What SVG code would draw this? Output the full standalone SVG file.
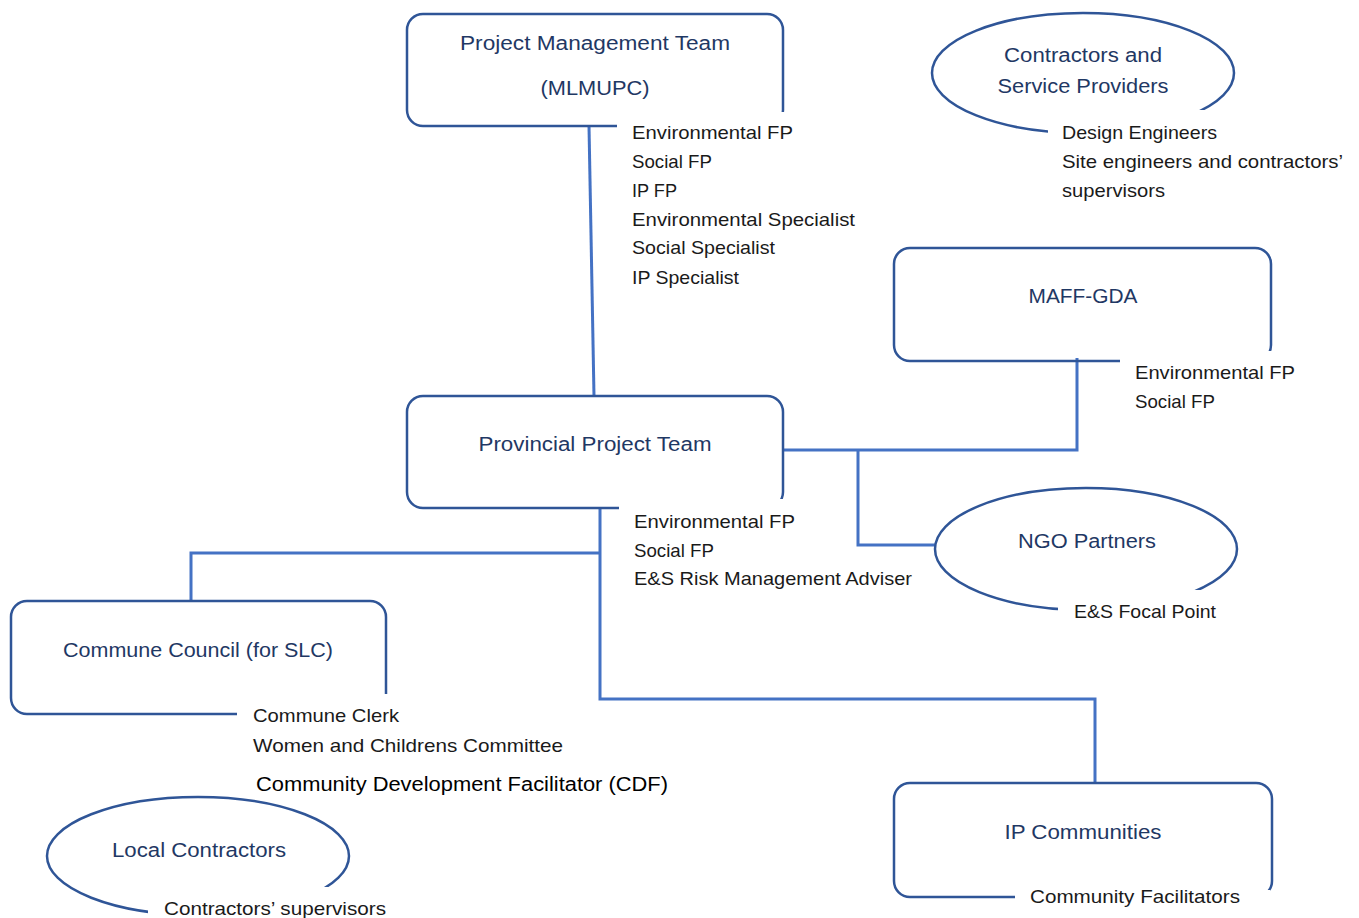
<svg xmlns="http://www.w3.org/2000/svg" width="1359" height="918" viewBox="0 0 1359 918">
<style>
.box{fill:none;stroke:#2F5597;stroke-width:2.5}
.tb{fill:#ffffff;stroke:none}
.con{fill:none;stroke:#4472C4;stroke-width:3}
.lbl{font-family:"Liberation Sans",Arial,sans-serif;font-size:19.5px;fill:#1F3864;text-anchor:middle}
.lst{font-family:"Liberation Sans",Arial,sans-serif;font-size:19px;fill:#1a1a1a}
</style>
<rect width="1359" height="918" fill="#ffffff"/>
<g id="connectors">
<path class="con" d="M589,126 L594,396"/>
<path class="con" d="M783,450 L1077,450 L1077,358"/>
<path class="con" d="M858,450 L858,545 L935,545"/>
<path class="con" d="M600,508 L600,699 L1095,699 L1095,783"/>
<path class="con" d="M600,553 L191,553 L191,601"/>
</g>
<g id="pmt">
<rect class="box" x="407" y="14" width="376" height="112" rx="16"/>
<rect class="tb" x="617" y="112" width="268" height="191"/>
<text class="lbl" x="595" y="50" textLength="270" lengthAdjust="spacingAndGlyphs">Project Management Team</text>
<text class="lbl" x="595" y="95" textLength="109" lengthAdjust="spacingAndGlyphs">(MLMUPC)</text>
<text class="lst" x="632" y="139" textLength="161" lengthAdjust="spacingAndGlyphs">Environmental FP</text>
<text class="lst" x="632" y="168" textLength="80" lengthAdjust="spacingAndGlyphs">Social FP</text>
<text class="lst" x="632" y="197" textLength="45" lengthAdjust="spacingAndGlyphs">IP FP</text>
<text class="lst" x="632" y="226" textLength="223" lengthAdjust="spacingAndGlyphs">Environmental Specialist</text>
<text class="lst" x="632" y="254" textLength="143" lengthAdjust="spacingAndGlyphs">Social Specialist</text>
<text class="lst" x="632" y="284" textLength="107" lengthAdjust="spacingAndGlyphs">IP Specialist</text>
</g>
<g id="contractors">
<ellipse class="box" cx="1083" cy="73" rx="151" ry="60"/>
<rect class="tb" x="1048" y="110" width="311" height="123"/>
<text class="lbl" x="1083" y="62" textLength="158" lengthAdjust="spacingAndGlyphs">Contractors and</text>
<text class="lbl" x="1083" y="93" textLength="171" lengthAdjust="spacingAndGlyphs">Service Providers</text>
<text class="lst" x="1062" y="139" textLength="155" lengthAdjust="spacingAndGlyphs">Design Engineers</text>
<text class="lst" x="1062" y="168" textLength="281" lengthAdjust="spacingAndGlyphs">Site engineers and contractors’</text>
<text class="lst" x="1062" y="197" textLength="103" lengthAdjust="spacingAndGlyphs">supervisors</text>
</g>
<g id="maff">
<rect class="box" x="894" y="248" width="377" height="113" rx="16"/>
<rect class="tb" x="1120" y="351" width="210" height="67"/>
<text class="lbl" x="1083" y="303" textLength="109" lengthAdjust="spacingAndGlyphs">MAFF-GDA</text>
<text class="lst" x="1135" y="379" textLength="160" lengthAdjust="spacingAndGlyphs">Environmental FP</text>
<text class="lst" x="1135" y="408" textLength="80" lengthAdjust="spacingAndGlyphs">Social FP</text>
</g>
<g id="ppt">
<rect class="box" x="407" y="396" width="376" height="112" rx="16"/>
<rect class="tb" x="619" y="499" width="180" height="16"/>
<text class="lbl" x="595" y="451" textLength="233" lengthAdjust="spacingAndGlyphs">Provincial Project Team</text>
<text class="lst" x="634" y="528" textLength="161" lengthAdjust="spacingAndGlyphs">Environmental FP</text>
<text class="lst" x="634" y="557" textLength="80" lengthAdjust="spacingAndGlyphs">Social FP</text>
<text class="lst" x="634" y="585" textLength="278" lengthAdjust="spacingAndGlyphs">E&amp;S Risk Management Adviser</text>
</g>
<g id="ngo">
<ellipse class="box" cx="1086" cy="549" rx="151" ry="61"/>
<rect class="tb" x="1058" y="590" width="265" height="45"/>
<text class="lbl" x="1087" y="548" textLength="138" lengthAdjust="spacingAndGlyphs">NGO Partners</text>
<text class="lst" x="1074" y="618" textLength="142" lengthAdjust="spacingAndGlyphs">E&amp;S Focal Point</text>
</g>
<g id="commune">
<rect class="box" x="11" y="601" width="375" height="113" rx="16"/>
<rect class="tb" x="237" y="694" width="340" height="70"/>
<text class="lbl" x="198" y="657" textLength="270" lengthAdjust="spacingAndGlyphs">Commune Council (for SLC)</text>
<text class="lst" x="253" y="722" textLength="146" lengthAdjust="spacingAndGlyphs">Commune Clerk</text>
<text class="lst" x="253" y="752" textLength="310" lengthAdjust="spacingAndGlyphs">Women and Childrens Committee</text>
</g>
<g id="cdf">
<text class="lst" x="256" y="791" style="fill:#000000;font-size:20px" textLength="412" lengthAdjust="spacingAndGlyphs">Community Development Facilitator (CDF)</text>
</g>
<g id="local">
<ellipse class="box" cx="198" cy="856" rx="151" ry="59"/>
<rect class="tb" x="148" y="887" width="343" height="31"/>
<text class="lbl" x="199" y="857" textLength="174" lengthAdjust="spacingAndGlyphs">Local Contractors</text>
<text class="lst" x="164" y="915" textLength="222" lengthAdjust="spacingAndGlyphs">Contractors’ supervisors</text>
</g>
<g id="ipc">
<rect class="box" x="894" y="783" width="378" height="114" rx="16"/>
<rect class="tb" x="1015" y="890" width="255" height="28"/>
<text class="lbl" x="1083" y="839" textLength="157" lengthAdjust="spacingAndGlyphs">IP Communities</text>
<text class="lst" x="1030" y="903" textLength="210" lengthAdjust="spacingAndGlyphs">Community Facilitators</text>
</g>
</svg>
